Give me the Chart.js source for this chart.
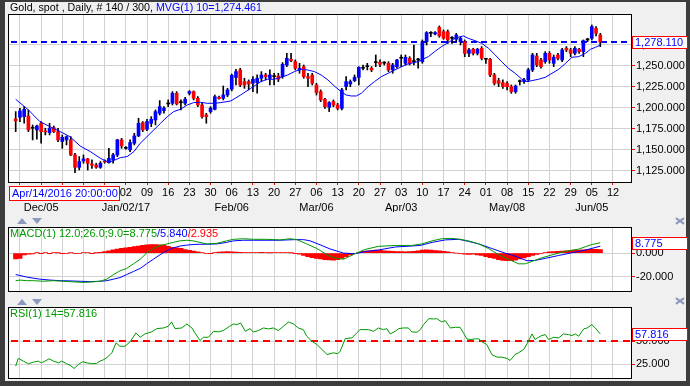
<!DOCTYPE html>
<html><head><meta charset="utf-8">
<script src="https://cdn.jsdelivr.net/npm/chart.js@4.4.1/dist/chart.umd.min.js"></script>
<style>
html,body{margin:0;padding:0;background:#3c3c3c;}
#wrap{position:relative;width:690px;height:386px;overflow:hidden;background:#3c3c3c;}
#panel{position:absolute;left:5px;top:2px;width:681px;height:379px;background:#f0f0f0;}
canvas{position:absolute;left:0;}
.t{position:absolute;font-family:'Liberation Sans',Arial,sans-serif;font-size:10.7px;line-height:15px;white-space:nowrap;color:#000;}
.up{position:absolute;width:0;height:0;border-left:5px solid transparent;border-right:5px solid transparent;border-bottom:6px solid #8c9bbd;}
.dn{position:absolute;width:0;height:0;border-left:5px solid transparent;border-right:5px solid transparent;border-top:6px solid #8c9bbd;}
.cx{position:absolute;width:9px;height:7px;}
.cx:before,.cx:after{content:"";position:absolute;left:0;top:3px;width:10px;height:2px;background:#8c9bbd;}
.cx:before{transform:rotate(35deg);} .cx:after{transform:rotate(-35deg);}
</style></head>
<body><div id="wrap"><div id="panel"></div>
<canvas id="c1" width="690" height="212" style="top:0"></canvas>
<canvas id="c2" width="690" height="87" style="top:212px"></canvas>
<canvas id="c3" width="690" height="89" style="top:297px"></canvas>
<div class="t" id="title" style="left:10px;top:0px"></div>
<div class="up" style="left:17px;top:218px"></div><div class="dn" style="left:32px;top:218px"></div>
<div class="up" style="left:17px;top:299px"></div><div class="dn" style="left:32px;top:299px"></div>
<div class="cx" style="left:675px;top:217px"></div>
<div class="cx" style="left:675px;top:297px"></div>
</div>
<script>
// ---------------- data ----------------
const weekLabels = ['28','05','12','19','26','02','09','16','23','30','06','13','20','27','06','13','20','27','03','10','17','24','01','08','15','22','29','05','12'];
const monthLabels = ['','Dec/05','','','','Jan/02/17','','','','','Feb/06','','','','Mar/06','','','','Apr/03','','','','','May/08','','','','Jun/05',''];
const opens = [1186.6,1188.5,1189.3,1190.1,1175.5,1173.5,1181.4,1172.3,1170.3,1176.2,
1171.5,1159.6,1161.6,1161.6,1143.7,1129.0,1136.6,1139.0,1133.0,1131.8,
1129.0,1136.6,1134.6,1137.8,1143.7,1161.6,1151.6,1149.7,1157.6,1166.3,
1182.2,1174.3,1181.4,1185.4,1193.3,1196.5,1204.4,1205.2,1217.1,1206.0,
1205.2,1217.1,1219.1,1211.2,1203.2,1191.3,1195.3,1198.1,1212.4,1211.2,
1215.1,1222.0,1235.9,1244.9,1231.0,1231.0,1229.0,1229.8,1235.0,1238.9,
1235.0,1236.9,1237.7,1236.9,1250.8,1257.6,1254.8,1244.9,1248.8,1236.9,
1238.9,1227.0,1219.1,1209.9,1200.4,1207.2,1203.2,1199.2,1225.0,1228.2,
1232.2,1236.1,1246.9,1248.8,1246.9,1253.6,1254.0,1253.0,1252.8,1244.9,
1248.8,1258.8,1252.8,1258.8,1254.8,1256.8,1254.8,1278.6,1288.5,1287.7,
1295.7,1290.5,1290.5,1282.6,1281.4,1278.6,1278.6,1264.7,1269.5,1264.7,
1270.7,1257.6,1257.6,1238.9,1232.2,1229.8,1229.0,1225.0,1219.1,1231.0,
1231.0,1233.0,1244.9,1261.5,1256.8,1254.8,1264.7,1252.8,1262.7,1256.8,
1270.7,1268.7,1264.7,1269.5,1266.7,1280.6,1282.6,1294.5,1286.5];
const highs = [1195.3,1199.3,1201.2,1197.3,1179.4,1179.4,1183.4,1175.5,1181.4,1178.2,
1175.5,1167.5,1166.3,1165.5,1145.7,1141.7,1143.7,1139.7,1137.8,1133.8,
1135.8,1137.8,1151.6,1145.7,1162.4,1163.5,1153.6,1161.6,1169.5,1187.4,
1183.4,1186.2,1189.3,1197.3,1208.4,1201.2,1209.2,1219.1,1219.1,1209.2,
1212.4,1220.3,1219.9,1213.1,1205.2,1193.3,1201.2,1215.1,1213.9,1225.8,
1223.1,1240.0,1245.6,1246.9,1235.0,1233.0,1236.9,1239.0,1242.9,1240.9,
1244.9,1240.9,1240.9,1253.6,1264.7,1264.7,1256.8,1252.8,1250.8,1240.9,
1240.9,1229.0,1221.1,1211.2,1207.2,1209.2,1205.2,1223.1,1236.9,1233.0,
1238.9,1248.8,1250.8,1252.8,1248.8,1262.7,1256.8,1254.8,1254.8,1252.8,
1257.6,1262.7,1262.7,1260.7,1274.6,1258.8,1280.6,1290.5,1290.5,1290.5,
1297.3,1292.5,1292.5,1284.5,1288.5,1284.5,1280.6,1270.7,1270.7,1270.7,
1272.7,1258.8,1258.8,1240.9,1235.0,1233.0,1230.9,1227.0,1227.0,1233.0,
1235.0,1246.9,1264.7,1264.7,1258.8,1266.7,1266.7,1262.7,1264.7,1270.7,
1272.7,1270.7,1272.7,1270.7,1280.6,1282.6,1298.4,1296.5,1288.5];
const lows = [1171.5,1183.4,1181.4,1171.5,1161.6,1162.4,1157.6,1167.5,1167.5,1170.3,
1159.6,1151.6,1155.6,1142.9,1122.7,1125.8,1133.8,1125.8,1127.8,1127.8,
1127.8,1133.8,1133.8,1133.8,1141.7,1151.6,1150.5,1147.7,1155.6,1165.5,
1171.5,1172.7,1177.4,1179.4,1191.3,1193.3,1201.2,1203.2,1203.2,1197.3,
1203.2,1215.1,1209.2,1201.2,1187.4,1181.4,1193.3,1197.3,1210.0,1209.2,
1213.1,1220.0,1227.0,1225.0,1223.0,1221.1,1219.1,1217.1,1231.0,1233.0,
1227.0,1227.0,1231.0,1235.0,1248.8,1254.8,1244.9,1240.9,1235.0,1225.0,
1227.0,1215.1,1207.2,1199.2,1195.3,1201.2,1197.3,1197.3,1221.1,1225.0,
1231.0,1227.0,1244.9,1244.9,1242.9,1248.8,1248.8,1250.8,1242.9,1240.9,
1246.9,1248.8,1250.8,1250.8,1250.8,1246.9,1252.8,1274.6,1284.5,1286.5,
1283.8,1281.4,1276.6,1276.6,1278.6,1274.6,1260.7,1260.7,1262.7,1262.7,
1256.8,1252.8,1236.9,1227.0,1225.0,1223.0,1221.1,1217.1,1217.1,1227.0,
1229.0,1231.0,1242.9,1248.8,1246.9,1252.8,1252.8,1248.8,1256.8,1254.8,
1266.7,1260.7,1262.7,1264.7,1260.7,1278.6,1280.6,1285.3,1272.6];
const closes = [1184.2,1196.1,1198.1,1173.5,1175.5,1178.2,1171.5,1171.1,1175.5,1171.5,
1161.6,1164.7,1165.5,1143.7,1129.0,1135.8,1139.0,1133.8,1131.4,1129.0,
1133.8,1135.4,1139.7,1143.7,1161.6,1154.4,1151.6,1158.4,1166.3,1181.4,
1173.5,1183.4,1186.2,1195.3,1201.2,1199.3,1204.4,1217.1,1204.4,1206.0,
1210.0,1219.1,1211.2,1203.2,1189.3,1189.3,1199.3,1213.1,1210.8,1215.1,
1221.1,1238.5,1242.9,1227.0,1227.0,1228.2,1233.8,1235.0,1238.9,1236.9,
1238.9,1236.9,1233.8,1251.6,1258.8,1256.0,1246.9,1246.9,1236.9,1235.0,
1229.0,1217.9,1209.2,1201.2,1206.0,1203.2,1199.2,1221.1,1231.0,1231.0,
1236.1,1248.0,1246.9,1248.8,1244.9,1253.6,1251.6,1253.0,1244.9,1250.8,
1256.8,1258.8,1259.9,1252.8,1254.8,1256.8,1278.0,1289.3,1288.5,1289.3,
1285.3,1282.6,1280.6,1282.6,1286.5,1282.6,1264.7,1268.7,1264.7,1269.5,
1258.8,1257.6,1238.9,1229.0,1229.0,1225.0,1225.0,1219.1,1225.8,1231.0,
1233.0,1244.9,1262.7,1250.8,1248.8,1264.7,1256.8,1260.0,1258.8,1268.7,
1268.7,1264.7,1270.7,1266.7,1279.8,1280.6,1296.5,1288.5,1278.11];
const maX = [0,3,5.7,8.1,10.5,12.8,15.2,17.6,20,21.9,23.1,24.7,26.3,27.9,29.4,31,32.6,34.2,35.8,37.3,38.9,40.5,42,43.6,45.2,46.8,48.4,50.8,53.1,55.5,57.9,59.4,61,62.6,64.2,65.8,67.3,68.9,70.5,72.1,73.7,75.2,76.8,78,79.2,80.4,81.6,83.2,84.7,86.3,87.9,89.5,91.1,92.6,95,97.4,98.9,100.5,102.1,103.7,104.5,105.7,106.8,108.4,110,111.6,113.2,114.7,116.3,117.9,119.5,120.7,121.9,123.4,125,126.6,128.2,129.8,131.3,132.9,134.5,135.7,136.9,138];
const maY = [1210,1197.3,1183.4,1177.4,1171.5,1165.5,1154.4,1147.7,1139.7,1135,1137,1140.5,1141.7,1147.7,1157.6,1165.5,1173.5,1181.4,1189.3,1195.3,1198.1,1203.2,1206,1206.4,1205.2,1205.2,1206,1208,1215.1,1223.1,1231,1233.8,1233.8,1236.1,1238.9,1242.9,1245.7,1244.9,1242.9,1238.9,1233,1225.8,1219.1,1215.1,1213.9,1213.9,1217.1,1225,1231,1236.9,1240.9,1244.9,1248.8,1252,1254.8,1260.7,1266.7,1272.6,1277.4,1282.6,1283.8,1285.4,1282.6,1279.8,1276.6,1270.7,1262.7,1254.8,1246.9,1240.9,1233.8,1231,1232.2,1233.8,1236.1,1240.9,1245.7,1252.8,1260,1260.7,1264.7,1269.5,1272,1274.461];
const macdX = [0,1,2.6,4.2,6.5,8.9,11.2,13.6,16,18.3,19.9,21.5,23.1,24.6,26.2,27.8,29.4,30.9,32.5,34.1,35.7,37.2,38.8,40.4,41.9,43.5,45.1,47.5,49.8,51.4,53.8,56.1,59.3,62.4,64.8,66.4,68.7,71.1,73.5,75,77.4,80.1,82.5,85.6,89.6,93.5,95.9,98.3,100.6,103,105,106.9,109.3,111.6,114,116.3,118.7,120.3,121.9,124.2,126.6,129.7,132.9,136,138];
const macdY = [-23.4,-22.9,-23.4,-23.4,-23.9,-23.4,-23.9,-24.4,-24.9,-24.4,-23.9,-22.1,-18.2,-15.1,-13,-9.1,-5.2,0,3.9,6.5,7.8,9.1,10.4,10.9,10.4,9.1,7.8,8.3,10.4,11.7,12.2,11.7,11.7,11.2,12.2,11.4,7.8,3.9,-1.3,-3.9,-5.2,-0.5,3.1,5.7,6.5,6.5,7.8,10.4,12.2,12.5,11.7,10.4,7.8,3.9,-1.3,-5.2,-9.1,-9.1,-7,-4,-1.5,1.5,3.4,7.3,8.775];
const sigX = [0,1,2.6,4.2,5.7,8.1,10.5,12.8,15.2,17.6,19.9,21.5,23.1,24.6,26.2,27.8,29.4,30.9,32.5,34.1,35.7,37.2,38.8,40.4,41.9,43.5,45.1,47.5,49.8,51.4,53.8,56.1,59.3,62.4,65.6,68,69.5,71.9,74.2,77.4,80.1,82.5,85.6,89.6,93.5,95.5,98.3,101.4,104.6,106.9,109.3,112.4,115.5,117.9,120.7,122.6,125,128.2,131.3,134.5,138];
const sigY = [-18.2,-19,-20.3,-21.3,-22.1,-22.9,-23.4,-23.6,-23.9,-24.2,-23.9,-23.4,-22.1,-20.8,-18.2,-15.6,-13,-9.1,-5.2,-1.3,2.1,4.4,6,6.8,7.3,7.5,7.5,7.8,9.1,10.4,10.9,10.9,10.9,10.9,11.4,11.4,10.4,7,3.5,0,-0.5,1.3,2.6,5.2,6,6.5,9.1,11.2,11.7,9.9,7.8,3.9,0,-2.6,-6.5,-6.2,-4.5,-2,0.3,2.6,5.84];
const histY = [-5,-4.5,-1.5,-1,-0.8,
0.3,-0.3,0.5,-0.2,0.4,0.2,-0.3,-0.5,0.3,-0.4,-0.5,0.3,0.5,-0.3,0.2,0.6,
1.2,2,2.8,3.5,4,4.5,5,5.5,6,6.5,7,7.2,7.3,7,6.5,5.8,5,4.5,4,3,2.3,1.8,1,0.3,
-0.5,-0.3,0.5,0.8,1,1.2,1,0.8,0.6,0.5,0.4,0.3,0.5,0.6,0.4,0.2,0.3,0.4,0.5,0.3,0.2,-0.3,
-1,-2,-3,-3.8,-4.5,-5,-5.5,-5.8,-6,-5.5,-4.5,-3,-1.5,-0.5,0.5,
1.5,2,2.2,2.5,2.3,2,1.8,1.5,1.3,1.2,1,1.2,1.5,2,2.5,2.8,2.5,2.2,2,1.5,1,0.5,0,
-0.5,-1,-1.2,-1,-1.5,-2,
-3,-3.8,-4.5,-5.5,-6.2,-6.5,-6.5,-6,-5,-4,-3,
-2,-1.2,-0.5,
0.5,1,1.3,1.5,1.8,2,2.2,2.5,2.6,2.8,3,3.2,3.3,2.935];
const rsiX = [0,0.6,1.8,3.0,4.2,5.3,6.1,6.9,7.9,8.9,10.1,10.9,12.0,12.8,13.8,14.8,15.8,16.8,17.9,19.1,19.9,20.9,21.9,22.7,23.7,24.6,25.8,27.0,28.4,29.4,30.5,32.1,33.3,34.9,36.0,36.8,37.6,39.2,40.4,41.6,42.3,43.5,44.3,45.5,46.7,47.9,49.0,50.5,51.4,52.2,53.1,54.2,55.3,56.1,57.3,58.5,59.7,60.8,62.0,63.2,64.4,65.6,66.7,67.9,68.7,69.9,71.1,72.3,73.5,74.2,75.0,76.0,76.6,
77.8,79.4,80.5,81.3,83.3,84.5,85.6,86.8,87.6,88.4,89.6,90.4,91.5,92.7,93.5,94.7,95.5,96.3,97.5,98.6,99.4,100.6,101.4,102.6,103.8,104.9,105.7,106.5,107.3,108.5,109.3,110.1,111.2,112.4,113.6,114.8,116.0,116.7,117.9,118.7,119.9,120.7,121.9,122.6,123.8,125.0,125.8,127.0,128.2,129.3,130.5,131.3,132.1,132.9,134.1,134.9,136.0,136.8,138.0];
const rsiY = [23.2,31.5,28.6,25.8,27.5,28.6,26.8,28.6,31.1,28.6,26.8,28.6,25.8,24.3,20.7,25.0,27.9,26.8,25.8,26.1,28.6,30.4,33.9,37.6,48.3,44.6,44.6,49.4,59.0,54.3,57.9,60.1,63.6,64.3,66.1,70.8,63.6,64.3,68.6,64.3,59.0,50.8,54.3,54.3,60.7,60.1,61.5,66.1,68.6,67.9,69.7,60.7,63.6,60.1,61.5,64.3,63.3,64.3,61.5,66.1,70.8,68.6,64.3,62.5,55.4,50.0,46.5,41.1,35.7,36.5,37.6,36.5,39.3,
52.9,53.6,59.0,62.5,62.5,60.7,64.3,62.5,63.6,57.9,60.7,63.6,64.3,64.3,60.1,59.6,62.5,67.9,74.3,74.0,74.3,70.8,72.2,64.3,65.0,65.0,59.0,52.6,51.8,52.6,52.6,49.4,46.5,35.7,32.9,32.9,31.5,29.3,35.7,37.6,41.1,47.2,57.9,51.8,55.4,57.2,51.8,54.3,53.6,57.9,57.2,56.1,57.9,55.4,63.3,64.3,67.9,64.3,57.816];
const priceTicks = [1125,1150,1175,1200,1225,1250,1275];
const macdTicks = [-20,0];
const rsiTicks = [25,50];
const maLast = 1274.461, lastClose = 1278.11, macdLast = 8.775, sigLast = 5.84, histLast = 2.935, rsiLast = 57.816;
const cursorLabel = 'Apr/14/2016 20:00:00';

// ---------------- helpers ----------------
const FONT = "'Liberation Sans', Arial, sans-serif";
Chart.defaults.font.family = FONT;
Chart.defaults.font.size = 11;
Chart.defaults.color = '#000';
Chart.defaults.animation = false;
Chart.defaults.plugins.legend.display = false;
Chart.defaults.plugins.tooltip.enabled = false;
const X_MIN = -1.58, X_MAX = 145.25, GRID = '#d2d2d2';
const BLUE = '#0000ff', RED = '#ff0000', GREEN = '#009900';
const fmt = v => v.toLocaleString('en-US',{minimumFractionDigits:3,maximumFractionDigits:3});
document.getElementById('title').innerHTML = 'Gold, spot , Daily, # 140 / 300, <span style="color:#0000ff">MVG(1) 10=' + fmt(maLast) + '</span>';

function xAxis(show, h){
  return {type:'linear', min:X_MIN, max:X_MAX, offset:false,
    afterBuildTicks:s=>{s.ticks = weekLabels.map((_,k)=>({value:1+5*k}));},
    afterFit:s=>{s.height=h;},
    ticks:{display:show, autoSkip:false, maxRotation:0, minRotation:0, padding:1,
      font:{size:11, lineHeight:1.31},
      callback:(v,i)=> monthLabels[i] ? [weekLabels[i], monthLabels[i]] : weekLabels[i]},
    grid:{color:GRID, tickColor:RED, tickLength:3, drawTicks:show, offset:false},
    border:{display:false}};
}
function yAxis(min,max,ticks){
  return {position:'right', min, max,
    afterBuildTicks:s=>{s.ticks = ticks.map(v=>({value:v}));},
    afterFit:s=>{s.width=59;},
    ticks:{padding:1, callback:v=>fmt(v)},
    grid:{color:GRID, tickColor:RED, tickLength:4},
    border:{display:false}};
}
function frame(extra){
  return {id:'frame',
    beforeDraw(c){const a=c.chartArea,x=c.ctx;x.save();x.fillStyle='#fff';x.fillRect(a.left,a.top,a.right-a.left,a.bottom-a.top);x.restore();},
    beforeDatasetsDraw(c){ if(extra.pre) extra.pre(c); },
    afterDraw(c){const a=c.chartArea,x=c.ctx;x.save();x.strokeStyle='#000';x.lineWidth=1;
      x.strokeRect(Math.round(a.left)-0.5,Math.round(a.top)-0.5,Math.round(a.right-a.left)+1,Math.round(a.bottom-a.top)+1);x.restore();
      if(extra.post) extra.post(c);}};
}
function hDash(c,v,color,dash){const a=c.chartArea,x=c.ctx,y=Math.round(c.scales.y.getPixelForValue(v));
  x.save();x.strokeStyle=color;x.lineWidth=2;x.setLineDash(dash);x.beginPath();x.moveTo(a.left+2,y);x.lineTo(a.right,y);x.stroke();x.restore();}
function valueBox(c,v,text){const a=c.chartArea,x=c.ctx,y=Math.round(c.scales.y.getPixelForValue(v));
  const l=Math.round(a.right)+1.5;x.save();x.fillStyle='#fff';x.fillRect(l,y-5.5,55,12);
  x.strokeStyle=RED;x.lineWidth=1;x.strokeRect(l,y-5.5,55,12);
  x.fillStyle=BLUE;x.font='11px '+FONT;x.textBaseline='middle';x.fillText(text,l+2.5,y+0.5);x.restore();}
function label(c,parts){const a=c.chartArea,x=c.ctx;x.save();x.font='11px '+FONT;x.textBaseline='middle';
  let px=a.left+1;for(const [t,col] of parts){x.fillStyle=col;x.fillText(t,px,a.top+6);px+=x.measureText(t).width;}x.restore();}
const base = {responsive:false, devicePixelRatio:1, maintainAspectRatio:false, events:[]};

// ---------------- price chart ----------------
const candleColor = closes.map((c,i)=> c>opens[i] ? BLUE : (c<opens[i] ? RED : '#000'));
new Chart(document.getElementById('c1'), {
  type:'bar',
  data:{datasets:[
    {type:'line', data:maX.map((x,i)=>({x, y:maY[i]})), borderColor:BLUE, borderWidth:1, pointRadius:0, tension:0, order:0},
    {data:closes.map((c,i)=>({x:i, y:[opens[i], c]})), backgroundColor:candleColor, barThickness:3, minBarLength:1, grouped:false, order:1},
    {data:lows.map((l,i)=>({x:i, y:[l, highs[i]]})), backgroundColor:'#000', barThickness:1, grouped:false, order:2}
  ]},
  options:{...base, layout:{padding:{left:9, top:15, right:0, bottom:0}},
    scales:{x:xAxis(true,30), y:yAxis(1111.5,1310.3,priceTicks)}},
  plugins:[frame({pre:c=>hDash(c,lastClose,BLUE,[6,4]),
    post:c=>{valueBox(c,lastClose,fmt(lastClose));
      const x=c.ctx;x.save();x.fillStyle='#fff';x.fillRect(9.5,186.5,110,14);
      x.strokeStyle=RED;x.strokeRect(9.5,186.5,110,14);x.fillStyle=BLUE;x.font='11px '+FONT;x.textBaseline='middle';
      x.fillText(cursorLabel,12,194);x.restore();}})]
});

// ---------------- MACD ----------------
new Chart(document.getElementById('c2'), {
  type:'bar',
  data:{datasets:[
    {type:'line', data:macdX.map((x,i)=>({x, y:macdY[i]})), borderColor:GREEN, borderWidth:1, pointRadius:0, tension:0, order:0},
    {type:'line', data:sigX.map((x,i)=>({x, y:sigY[i]})), borderColor:BLUE, borderWidth:1, pointRadius:0, tension:0, order:1},
    {data:histY.map((v,i)=>({x:i, y:v})), backgroundColor:RED, barThickness:4.4, grouped:false, order:2}
  ]},
  options:{...base, layout:{padding:{left:9, top:16, right:0, bottom:2}},
    scales:{x:xAxis(false,0), y:yAxis(-32.5,21.3,macdTicks)}},
  plugins:[frame({post:c=>{valueBox(c,macdLast,fmt(macdLast));
    label(c,[['MACD(1) 12.0;26.0;9.0='+fmt(macdLast),GREEN],['/'+fmt(sigLast),BLUE],['/'+fmt(histLast),RED]]);}})]
});

// ---------------- RSI ----------------
new Chart(document.getElementById('c3'), {
  type:'line',
  data:{datasets:[
    {data:rsiX.map((x,i)=>({x, y:rsiY[i]})), borderColor:GREEN, borderWidth:1, pointRadius:0, tension:0}
  ]},
  options:{...base, layout:{padding:{left:9, top:11, right:0, bottom:7}},
    scales:{x:xAxis(false,0), y:yAxis(10,85.8,rsiTicks)}},
  plugins:[frame({pre:c=>hDash(c,50,RED,[7,5]),
    post:c=>{valueBox(c,rsiLast,fmt(rsiLast)); label(c,[['RSI(1) 14='+fmt(rsiLast),GREEN]]);}})]
});
</script>
</body></html>
